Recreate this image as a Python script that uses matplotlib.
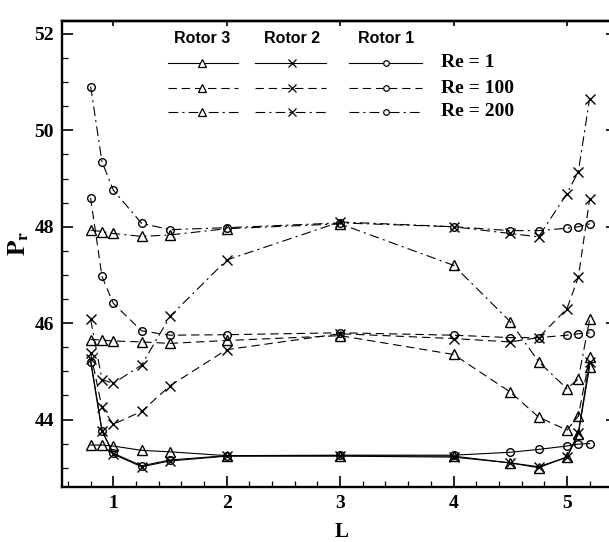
import numpy as np
import matplotlib
matplotlib.use("Agg")
import matplotlib.pyplot as plt
from matplotlib.ticker import MultipleLocator, NullLocator
from matplotlib.lines import Line2D

plt.rcParams['font.family'] = ['Liberation Serif', 'DejaVu Serif']
plt.rcParams['mathtext.fontset'] = 'stix'
plt.rcParams['lines.scale_dashes'] = False

# rotor length positions
L = [0.8, 0.9, 1.0, 1.25, 1.5, 2, 3, 4, 4.5, 4.75, 5.0, 5.1, 5.2]

# Re = 1
rotor1_re1 = [45.20, 43.77, 43.30, 43.04, 43.16, 43.25, 43.26, 43.26, 43.32, 43.38, 43.45, 43.49, 43.50]
rotor2_re1 = [45.25, 43.77, 43.28, 43.02, 43.14, 43.24, 43.24, 43.22, 43.10, 43.02, 43.22, 43.72, 45.20]
rotor3_re1 = [43.47, 43.47, 43.45, 43.36, 43.33, 43.25, 43.25, 43.24, 43.10, 43.00, 43.22, 43.70, 45.10]

# Re = 100
rotor1_re100 = [48.60, 46.97, 46.41, 45.84, 45.75, 45.76, 45.80, 45.75, 45.70, 45.70, 45.75, 45.78, 45.80]
rotor2_re100 = [45.38, 44.25, 43.90, 44.17, 44.70, 45.45, 45.78, 45.68, 45.61, 45.70, 46.30, 46.95, 48.57]
rotor3_re100 = [45.66, 45.65, 45.63, 45.61, 45.58, 45.64, 45.74, 45.35, 44.57, 44.05, 43.78, 44.07, 45.29]

# Re = 200
rotor1_re200 = [50.91, 49.35, 48.76, 48.07, 47.94, 47.98, 48.08, 48.00, 47.92, 47.92, 47.97, 48.00, 48.06]
rotor2_re200 = [46.08, 44.83, 44.75, 45.13, 46.14, 47.31, 48.10, 48.00, 47.86, 47.79, 48.69, 49.14, 50.66]
rotor3_re200 = [47.93, 47.90, 47.86, 47.80, 47.83, 47.96, 48.06, 47.20, 46.03, 45.20, 44.64, 44.84, 46.08]

rotor_names = ['Rotor 3', 'Rotor 2', 'Rotor 1']
re_names = ['Re = 1', 'Re = 100', 'Re = 200']

styles = {'Re = 1': '-', 'Re = 100': (0, (6, 3.5)), 'Re = 200': (0, (7, 3, 1.5, 3))}
markers = {'Rotor 1': 'o', 'Rotor 2': 'x', 'Rotor 3': '^'}
msizes = {'Rotor 1': 5.5, 'Rotor 2': 7, 'Rotor 3': 7}

series = {
    ('Rotor 1', 'Re = 1'): rotor1_re1, ('Rotor 2', 'Re = 1'): rotor2_re1, ('Rotor 3', 'Re = 1'): rotor3_re1,
    ('Rotor 1', 'Re = 100'): rotor1_re100, ('Rotor 2', 'Re = 100'): rotor2_re100, ('Rotor 3', 'Re = 100'): rotor3_re100,
    ('Rotor 1', 'Re = 200'): rotor1_re200, ('Rotor 2', 'Re = 200'): rotor2_re200, ('Rotor 3', 'Re = 200'): rotor3_re200,
}

fig = plt.figure(figsize=(6.09, 5.42), dpi=100)
ax = fig.add_axes([0.1026, 0.1015, 0.901, 0.8598])

for (rotor, re), vals in series.items():
    ax.plot(L, vals, color='black', lw=0.8, linestyle=styles[re],
            marker=markers[rotor], ms=msizes[rotor], mew=1.0,
            mfc='none', mec='black')

ax.set_xlim(0.552, 5.39)
ax.set_ylim(42.6, 52.27)
ax.xaxis.set_major_locator(MultipleLocator(1))
ax.xaxis.set_minor_locator(MultipleLocator(0.2))
ax.yaxis.set_major_locator(MultipleLocator(2))
ax.yaxis.set_minor_locator(MultipleLocator(0.5))
ax.tick_params(which='major', direction='in', length=8, width=1.2, pad=6,
               labelsize=14)
ax.tick_params(which='minor', direction='in', length=4.3, width=0.9)
for lab in ax.get_xticklabels() + ax.get_yticklabels():
    lab.set_fontweight('bold')
for sp in ax.spines.values():
    sp.set_linewidth(1.7)

# short ticks on top and right
top = ax.secondary_xaxis('top')
top.set_xticks([1, 2, 3, 4, 5])
top.xaxis.set_minor_locator(NullLocator())
top.tick_params(direction='in', length=3.5, width=1.2, labeltop=False)
top.spines['top'].set_linewidth(1.7)
right = ax.secondary_yaxis('right')
right.set_yticks([44, 46, 48, 50, 52])
right.yaxis.set_minor_locator(NullLocator())
right.tick_params(direction='in', length=3.5, width=1.2, labelright=False)
right.spines['right'].set_linewidth(1.7)

fig.text(342 / 609, 1 - 522 / 542, 'L', ha='center', va='top',
         fontsize=15, fontweight='bold')
fig.text(19 / 609, 1 - 243 / 542, r'$\mathbf{P_r}$', ha='center', va='center',
         rotation=90, fontsize=18)

# legend drawn as a table: rotors across, Re down
col_x = {'Rotor 3': (0.1932, 0.2542, 0.3193),
         'Rotor 2': (0.3516, 0.4186, 0.4807),
         'Rotor 1': (0.5220, 0.5890, 0.6543)}
row_y = {'Re = 1': 0.9105, 'Re = 100': 0.8556, 'Re = 200': 0.8054}
for rotor in rotor_names:
    x0, xm, x1 = col_x[rotor]
    ax.text(xm, 0.963, rotor, transform=ax.transAxes, ha='center', va='center',
            fontsize=11.5, fontweight='bold', family=['Liberation Sans', 'DejaVu Sans'])
    for re in re_names:
        y = row_y[re]
        ax.add_line(Line2D([x0, x1], [y, y], transform=ax.transAxes, color='black',
                           lw=0.8, linestyle=styles[re]))
        ax.add_line(Line2D([xm], [y], transform=ax.transAxes, color='none',
                           marker=markers[rotor], ms=msizes[rotor] - 1.5, mew=0.9,
                           mfc='white', mec='black'))
for re in re_names:
    ax.text(0.6895, row_y[re], re, transform=ax.transAxes, ha='left', va='center',
            fontsize=14, fontweight='bold')

fig.savefig('out.png', dpi=100)
